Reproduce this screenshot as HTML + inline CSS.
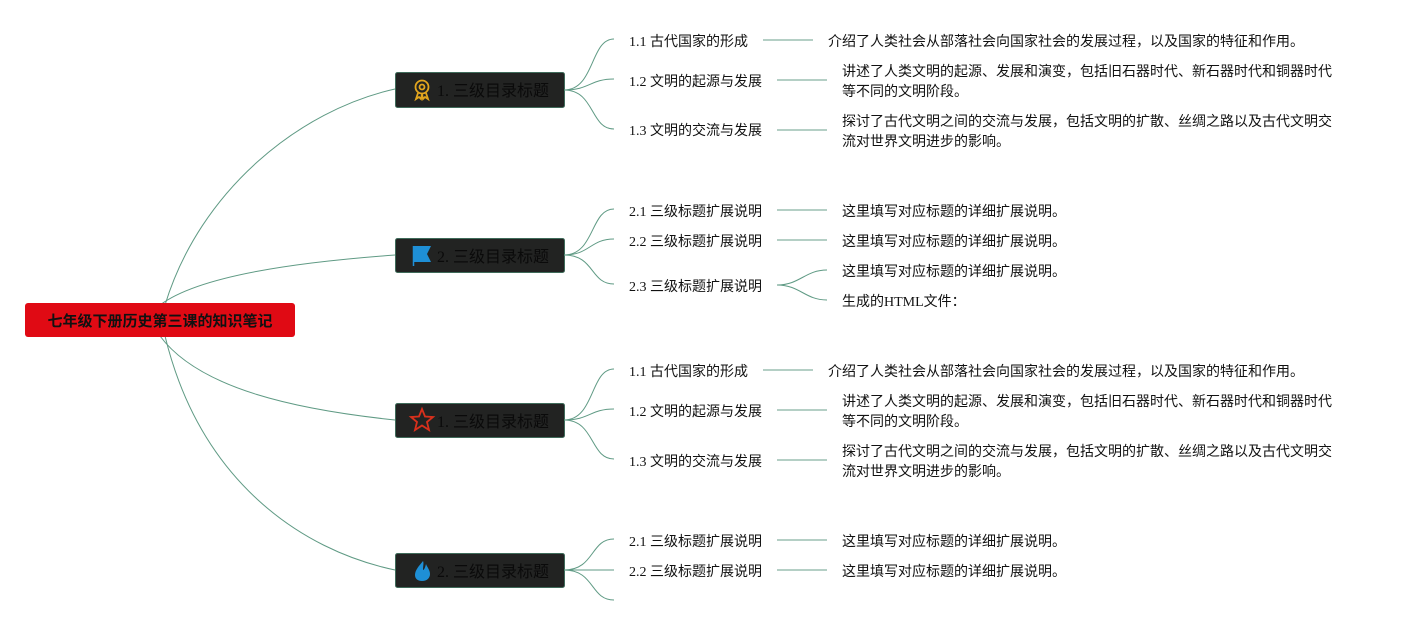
<!DOCTYPE html>
<html><head><meta charset="utf-8"><style>
html,body{margin:0;padding:0;background:#fff;}
svg{display:block;}
text{font-family:"Liberation Serif","Noto Sans CJK SC",serif;font-size:14px;fill:#111;}
.b{font-size:16px;fill:#0a0a0a;}
.r{font-size:15px;font-weight:bold;fill:#111;font-family:"Liberation Sans","Noto Sans CJK SC",sans-serif;}
.c{fill:none;stroke:#5f9a84;stroke-width:1;}
.l{stroke:#9cbfb2;stroke-width:1.5;}
</style></head><body>
<svg width="1402" height="625" viewBox="0 0 1402 625" xmlns="http://www.w3.org/2000/svg">
<path class="c" d="M165 305 C 200 190, 300 110, 395 89"/>
<path class="c" d="M160 305 C 200 275, 300 262, 395 255"/>
<path class="c" d="M160 336 C 200 390, 300 410, 395 420"/>
<path class="c" d="M165 336 C 200 480, 300 550, 395 570"/>
<rect x="25" y="303" width="270" height="34" rx="3" fill="#e00a14"/>
<text class="r" x="160" y="326" text-anchor="middle">七年级下册历史第三课的知识笔记</text>

<g>
<rect x="395.5" y="72.5" width="169" height="35" rx="2" fill="#222322" stroke="#3f6b5a"/>
<g transform="translate(422,89)" fill="none" stroke="#e2a51e" stroke-width="1.8">
<circle cx="0" cy="-2" r="6.5"/><circle cx="0" cy="-2" r="2.5"/>
<path d="M-4 4 L-6 10 L-3 8 L-1 10 L0 5 M4 4 L6 10 L3 8 L1 10 L0 5"/>
</g>
<text class="b" x="437" y="96">1. 三级目录标题</text>
</g>
<g>
<rect x="395.5" y="238.5" width="169" height="34" rx="2" fill="#222322" stroke="#3f6b5a"/>
<path d="M413 246 L431 246 L427 254 L431 262 L414 262 Z" fill="#1e8fd6"/>
<line x1="413.5" y1="246" x2="413.5" y2="266" stroke="#1e8fd6" stroke-width="1.5"/>
<text class="b" x="437" y="262">2. 三级目录标题</text>
</g>
<g>
<rect x="395.5" y="403.5" width="169" height="34" rx="2" fill="#222322" stroke="#3f6b5a"/>
<path d="M422 409 L425 416.5 L433 417 L427 422 L429 430 L422 425.5 L415 430 L417 422 L411 417 L419 416.5 Z" fill="none" stroke="#d9301c" stroke-width="1.8"/>
<text class="b" x="437" y="427">1. 三级目录标题</text>
</g>
<g>
<rect x="395.5" y="553.5" width="169" height="34" rx="2" fill="#222322" stroke="#3f6b5a"/>
<path d="M423 561 C 419 566, 415 570, 415 575 C 415 579, 418 581, 422 581 C 427 581, 430 578, 430 574 C 430 570, 427 567, 426 564 C 425 568, 424 570, 423 570 C 423 566, 424 563, 423 561 Z" fill="#1e8fd6"/>
<text class="b" x="437" y="577">2. 三级目录标题</text>
</g>

<path class="c" d="M564 90 C 595 90, 590 39, 614 39"/>
<path class="c" d="M564 90 C 590 90, 590 79, 614 79"/>
<path class="c" d="M564 90 C 595 90, 590 129, 614 129"/>
<path class="c" d="M564 255 C 595 255, 590 209, 614 209"/>
<path class="c" d="M564 255 C 590 255, 590 239, 614 239"/>
<path class="c" d="M564 255 C 595 255, 590 284, 614 284"/>
<path class="c" d="M564 420 C 595 420, 590 369, 614 369"/>
<path class="c" d="M564 420 C 590 420, 590 409, 614 409"/>
<path class="c" d="M564 420 C 595 420, 590 459, 614 459"/>
<path class="c" d="M564 570 C 595 570, 590 539, 614 539"/>
<path class="c" d="M564 570 L 614 570"/>
<path class="c" d="M564 570 C 595 570, 590 600, 614 600"/>

<text x="629" y="46">1.1 古代国家的形成</text>
<line class="l" x1="763" y1="40" x2="813" y2="40"/>
<text x="828" y="46">介绍了人类社会从部落社会向国家社会的发展过程，以及国家的特征和作用。</text>
<text x="629" y="86">1.2 文明的起源与发展</text>
<line class="l" x1="777" y1="80" x2="827" y2="80"/>
<text x="842" y="76">讲述了人类文明的起源、发展和演变，包括旧石器时代、新石器时代和铜器时代</text>
<text x="842" y="96">等不同的文明阶段。</text>
<text x="629" y="135">1.3 文明的交流与发展</text>
<line class="l" x1="777" y1="130" x2="827" y2="130"/>
<text x="842" y="126">探讨了古代文明之间的交流与发展，包括文明的扩散、丝绸之路以及古代文明交</text>
<text x="842" y="146">流对世界文明进步的影响。</text>

<text x="629" y="216">2.1 三级标题扩展说明</text>
<line class="l" x1="777" y1="210" x2="827" y2="210"/>
<text x="842" y="216">这里填写对应标题的详细扩展说明。</text>
<text x="629" y="246">2.2 三级标题扩展说明</text>
<line class="l" x1="777" y1="240" x2="827" y2="240"/>
<text x="842" y="246">这里填写对应标题的详细扩展说明。</text>
<text x="629" y="291">2.3 三级标题扩展说明</text>
<path class="c" d="M777 285 C 800 285, 805 270, 827 270"/>
<path class="c" d="M777 285 C 800 285, 805 300, 827 300"/>
<text x="842" y="276">这里填写对应标题的详细扩展说明。</text>
<text x="842" y="306">生成的HTML文件：</text>

<text x="629" y="376">1.1 古代国家的形成</text>
<line class="l" x1="763" y1="370" x2="813" y2="370"/>
<text x="828" y="376">介绍了人类社会从部落社会向国家社会的发展过程，以及国家的特征和作用。</text>
<text x="629" y="416">1.2 文明的起源与发展</text>
<line class="l" x1="777" y1="410" x2="827" y2="410"/>
<text x="842" y="406">讲述了人类文明的起源、发展和演变，包括旧石器时代、新石器时代和铜器时代</text>
<text x="842" y="426">等不同的文明阶段。</text>
<text x="629" y="466">1.3 文明的交流与发展</text>
<line class="l" x1="777" y1="460" x2="827" y2="460"/>
<text x="842" y="456">探讨了古代文明之间的交流与发展，包括文明的扩散、丝绸之路以及古代文明交</text>
<text x="842" y="476">流对世界文明进步的影响。</text>

<text x="629" y="546">2.1 三级标题扩展说明</text>
<line class="l" x1="777" y1="540" x2="827" y2="540"/>
<text x="842" y="546">这里填写对应标题的详细扩展说明。</text>
<text x="629" y="576">2.2 三级标题扩展说明</text>
<line class="l" x1="777" y1="570" x2="827" y2="570"/>
<text x="842" y="576">这里填写对应标题的详细扩展说明。</text>
</svg>
</body></html>
